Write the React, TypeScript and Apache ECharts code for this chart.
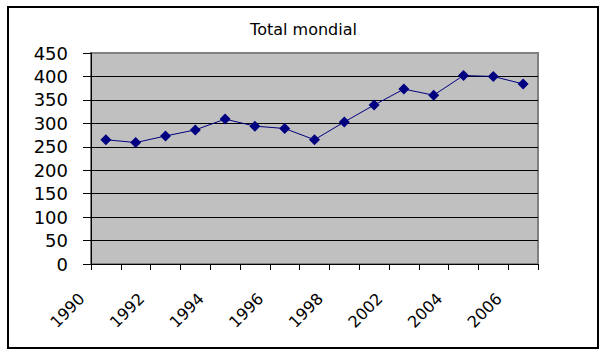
import React, { useEffect, useRef } from "react";
import * as echarts from "echarts";

const TITLE = "Total mondial";
const YEARS = ["1990", "1991", "1992", "1993", "1994", "1995", "1996", "1997", "1998", "2000", "2002", "2003", "2004", "2005", "2006"];
const VALUES = [265, 259, 273, 286, 309, 294, 289, 265, 303, 339, 373, 360, 402, 400, 384];
const Y_MIN = 0;
const Y_MAX = 450;
const Y_STEP = 50;

export default function App() {
  const ref = useRef<HTMLDivElement>(null);
  useEffect(() => {
    if (!ref.current) return;
    const chart = echarts.init(ref.current, null, { renderer: "svg" });
    chart.setOption({
      animation: false,
      backgroundColor: "#ffffff",
      title: {
        text: TITLE,
        left: "center",
        top: 21,
        padding: 0,
        textStyle: { fontFamily: "DejaVu Sans", fontSize: 16, fontWeight: "normal", color: "#000" },
      },
      graphic: [
        {
          type: "rect",
          shape: { x: 8, y: 7, width: 590, height: 341 },
          style: { fill: "none", stroke: "#000", lineWidth: 2 },
          z: 100,
        },
      ],
      grid: {
        left: 91,
        right: 69,
        top: 53,
        bottom: 91,
        show: true,
        backgroundColor: "#C0C0C0",
        borderColor: "#808080",
        borderWidth: 2,
      },
      xAxis: {
        type: "category",
        data: YEARS,
        boundaryGap: true,
        axisLine: { show: true, lineStyle: { color: "#000", width: 1 } },
        axisTick: { show: true, interval: 0, length: 6, lineStyle: { color: "#000" } },
        axisLabel: {
          interval: 1,
          rotate: 45,
          margin: 8,
          padding: [0, 34, 0, 0],
          fontFamily: "DejaVu Sans",
          fontSize: 16,
          color: "#000",
        },
        splitLine: { show: false },
      },
      yAxis: {
        type: "value",
        min: Y_MIN,
        max: Y_MAX,
        interval: Y_STEP,
        axisLine: { show: true, lineStyle: { color: "#000", width: 1 } },
        axisTick: { show: true, length: 8, lineStyle: { color: "#000" } },
        axisLabel: {
          margin: 23,
          fontFamily: "DejaVu Sans",
          fontSize: 18,
          color: "#000",
        },
        splitLine: {
          show: true,
          showMinLine: false,
          showMaxLine: false,
          lineStyle: { color: "#000", width: 1 },
        },
      },
      series: [
        {
          type: "line",
          data: VALUES,
          symbol: "diamond",
          symbolSize: [11, 11],
          lineStyle: { color: "#000080", width: 1 },
          itemStyle: { color: "#000080" },
        },
      ],
    });
    return () => chart.dispose();
  }, []);
  return (
    <div
      ref={ref}
      style={{ position: "absolute", left: 0, top: 0, width: 607, height: 355 }}
    />
  );
}
